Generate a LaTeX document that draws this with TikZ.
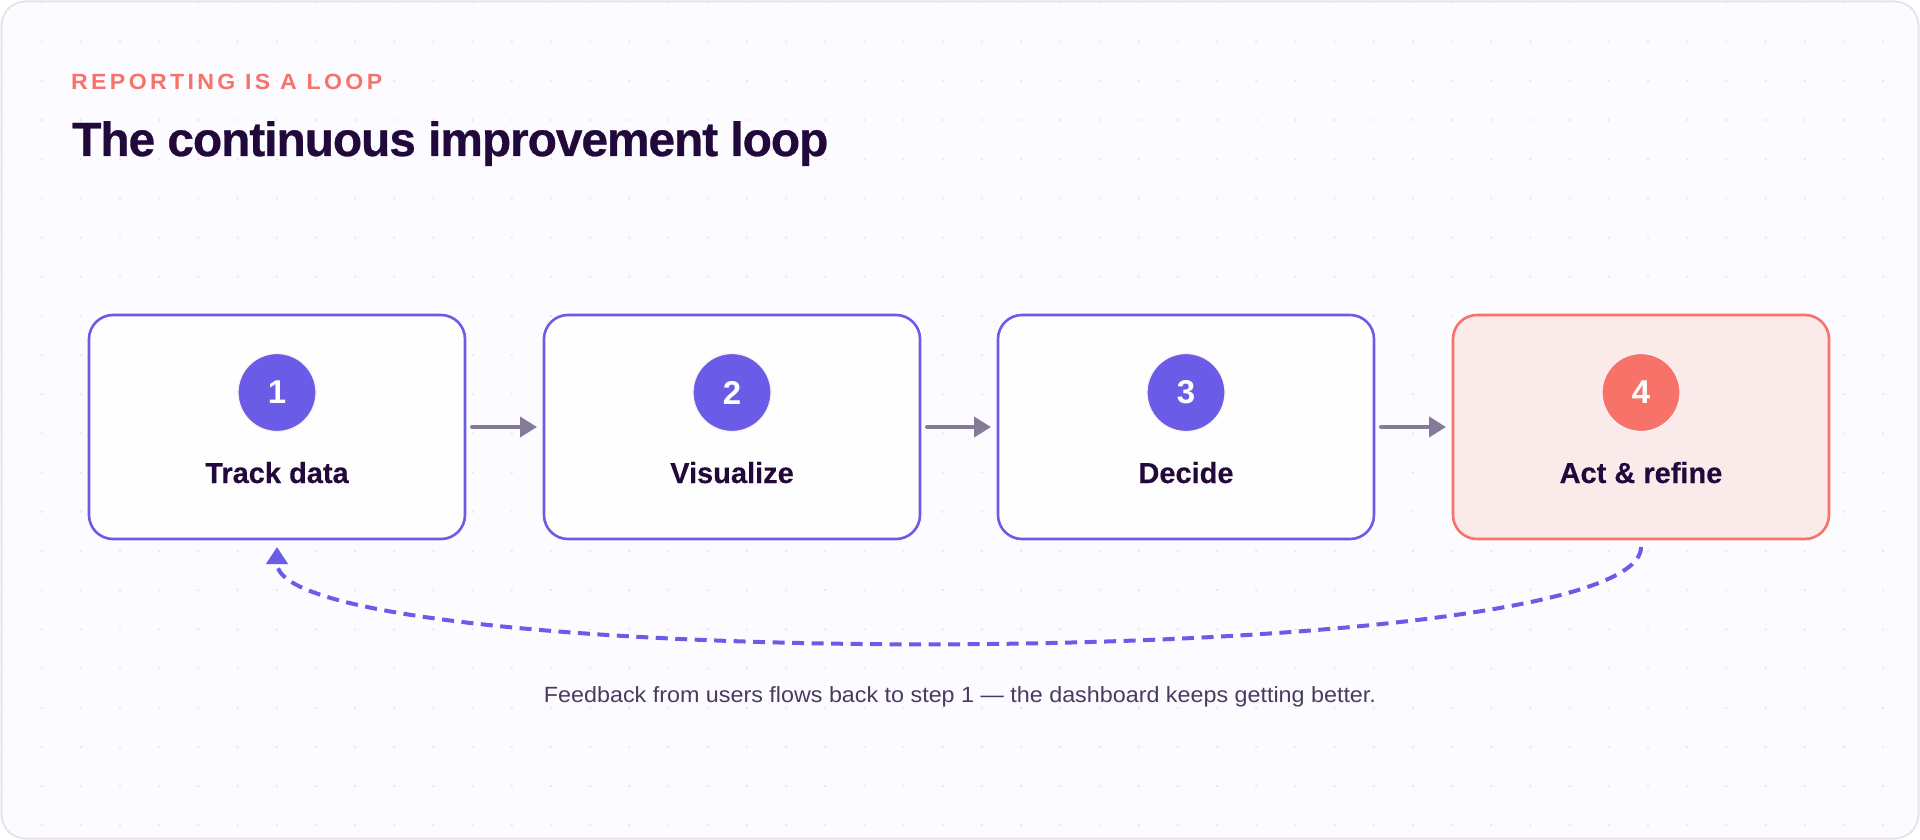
\documentclass[tikz,border=0pt]{standalone}
\usepackage{fontspec}
\setmainfont{Liberation Sans}
\usetikzlibrary{arrows.meta}
\definecolor{indigo}{HTML}{6B5CE7}
\definecolor{coral}{HTML}{F7736A}
\definecolor{coralbg}{HTML}{FBEAEA}
\definecolor{ink}{HTML}{21093B}
\definecolor{arrowc}{HTML}{857B98}
\definecolor{capc}{HTML}{4A3A5F}
\definecolor{cardbg}{HTML}{FCFBFF}
\definecolor{cardline}{HTML}{EAE2EA}
\definecolor{dotc}{HTML}{F5DFE6}
\definecolor{boxw}{HTML}{FFFEFF}
\definecolor{ringc}{HTML}{FDF0F3}
\begin{document}
\begin{tikzpicture}[x=1pt,y=-1pt,
  stepbox/.style={draw=indigo, fill=boxw, line width=2.6pt, rounded corners=24pt,
    minimum width=376pt, minimum height=224pt, outer sep=0pt, inner sep=0pt},
  lastbox/.style={stepbox, draw=coral, fill=coralbg},
  numdot/.style={circle, fill=indigo, draw=ringc, line width=1.2pt, minimum size=78pt,
    inner sep=0pt, text=white, font=\fontsize{33}{38}\selectfont\bfseries},
  lastdot/.style={numdot, fill=coral},
  lbl/.style={text=ink, font=\fontsize{29}{34}\selectfont\bfseries\addfontfeatures{FakeBold=0.3}, anchor=base, inner sep=0pt},
  flow/.style={draw=arrowc, line width=4pt, line cap=round, -{Triangle[length=17pt,width=20pt]}},
  fb/.style={draw=indigo, line width=4pt, dash pattern=on 12pt off 7.5pt, -{Triangle[length=17pt,width=21pt]}},
  kicker/.style={text=coral, anchor=base west, inner sep=0pt,
    font=\fontsize{22}{26}\selectfont\bfseries\addfontfeatures{LetterSpace=14.5}},
  ttl/.style={text=ink, anchor=base west, inner sep=0pt,
    font=\fontsize{48}{56}\selectfont\bfseries\addfontfeatures{LetterSpace=-2.1,FakeBold=0.6}},
  capnote/.style={text=capc, anchor=base, inner sep=0pt, font=\fontsize{22}{26}\selectfont}
]
\useasboundingbox (0,0) rectangle (1920,840);
\fill[white] (0,0) rectangle (1920,840);
\draw[cardline, fill=cardbg, line width=2pt, rounded corners=24pt] (1.5,1.5) rectangle (1918.5,838.5);
\begin{scope}
  \clip[rounded corners=24pt] (2.5,2.5) rectangle (1917.5,837.5);
  \foreach \i in {0,...,49} {
    \foreach \j in {0,...,21} {
      \fill[dotc] (2.45+39.18*\i, 2.45+39.18*\j) circle[radius=1.2pt];
    }
  }
\end{scope}

\node[kicker] (kick) at (71,90) {\resizebox{311pt}{\height}{REPORTING IS A LOOP}};
\node[ttl] (title) at (72,156) {\resizebox{756pt}{\height}{The continuous improvement loop}};

\node[stepbox] (b1) at (277,427) {};
\node[stepbox] (b2) at (732,427) {};
\node[stepbox] (b3) at (1186,427) {};
\node[lastbox] (b4) at (1641,427) {};

\node[numdot] (n1) at (277,392.5) {1};
\node[numdot] (n2) at (732,392.5) {2};
\node[numdot] (n3) at (1186,392.5) {3};
\node[lastdot] (n4) at (1641,392.5) {4};

\node[lbl] (l1) at (277,483) {Track data};
\node[lbl] (l2) at (732,483) {Visualize};
\node[lbl] (l3) at (1186,483) {Decide};
\node[lbl] (l4) at (1641,483) {Act \& refine};

\draw[flow] ([xshift=7pt]b1.east) -- ([xshift=-7pt]b2.west);
\draw[flow] ([xshift=7pt]b2.east) -- ([xshift=-7pt]b3.west);
\draw[flow] ([xshift=7pt]b3.east) -- ([xshift=-7pt]b4.west);

\draw[fb] ([yshift=-8pt]b4.south) .. controls +(0,127) and +(0,127) .. ([yshift=-8pt]b1.south);

\node[capnote] (note) at (960,702) {\resizebox{832pt}{\height}{Feedback from users flows back to step 1 — the dashboard keeps getting better.}};
\end{tikzpicture}
\end{document}
